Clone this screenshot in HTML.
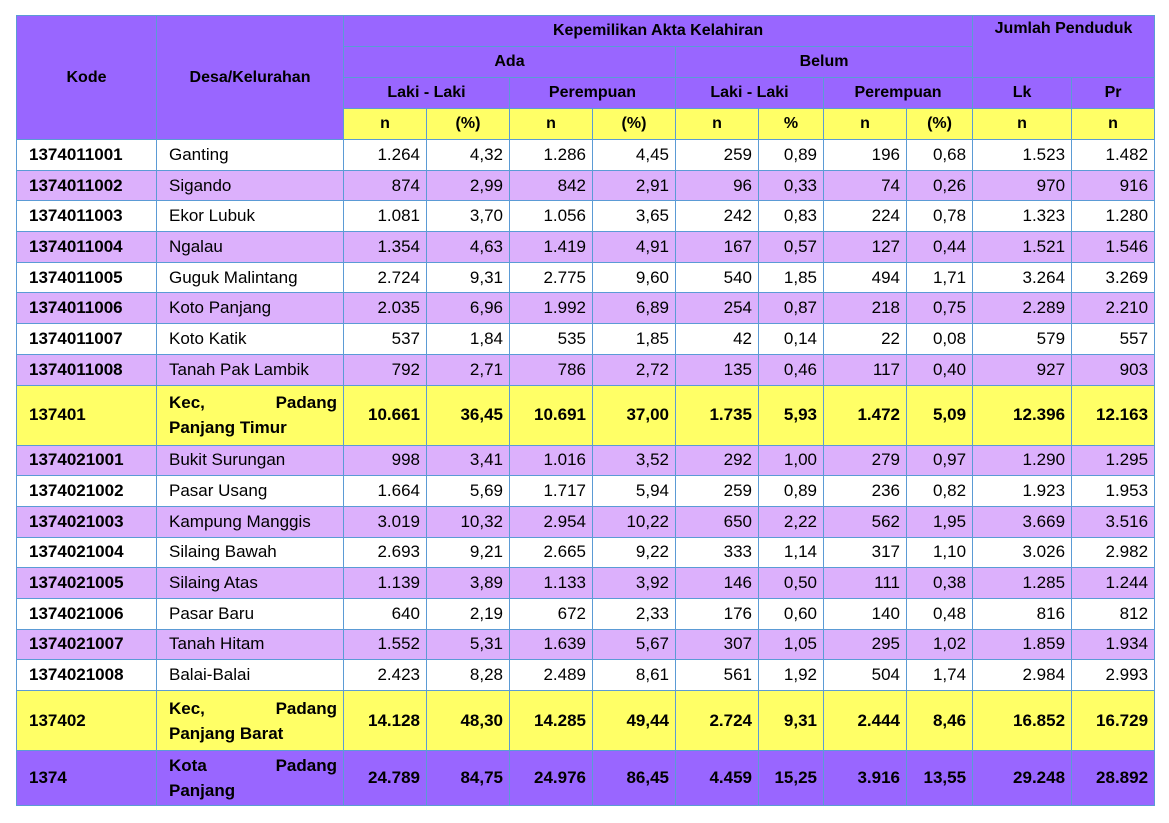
<!DOCTYPE html>
<html><head><meta charset="utf-8">
<style>
html,body{margin:0;padding:0;background:#fff;width:1169px;height:823px;overflow:hidden}
table{position:absolute;left:16px;top:15px;border-collapse:collapse;table-layout:fixed;width:1139px;font-family:"Liberation Sans","DejaVu Sans",sans-serif;font-size:17px;color:#000}
td,th{border:1px solid #5b9bd5;padding:0 6px;overflow:hidden;white-space:nowrap}
th{background:#9966ff;font-weight:bold;font-size:16px;text-align:center}
th.y{background:#ffff66}
tr.h td,tr.h th{height:30px}
tbody tr{height:30.7px}
tbody tr.w td{background:#fff}
tbody tr.l td{background:#dcb0fc}
tbody tr.k td{background:#ffff66;font-weight:bold;height:59px}
tbody tr.t td{background:#9966ff;font-weight:bold;height:54px}
td{text-align:right}
td.c{text-align:left;font-weight:bold;padding-left:12px}
td.d{text-align:left;padding-left:12px}
tr.k td.d,tr.t td.d{white-space:normal;text-align:justify;text-align-last:left;line-height:25px}
</style></head><body>
<table>
<colgroup><col style="width:140px"><col style="width:187px"><col style="width:83px"><col style="width:83px"><col style="width:83px"><col style="width:83px"><col style="width:83px"><col style="width:65px"><col style="width:83px"><col style="width:66px"><col style="width:99px"><col style="width:83px"></colgroup>
<thead>
<tr class="h"><th rowspan="4">Kode</th><th rowspan="4">Desa/Kelurahan</th><th colspan="8">Kepemilikan Akta Kelahiran</th><th colspan="2" rowspan="2" style="vertical-align:top;padding-top:4px">Jumlah Penduduk</th></tr>
<tr class="h"><th colspan="4">Ada</th><th colspan="4">Belum</th></tr>
<tr class="h"><th colspan="2">Laki - Laki</th><th colspan="2">Perempuan</th><th colspan="2">Laki - Laki</th><th colspan="2">Perempuan</th><th>Lk</th><th>Pr</th></tr>
<tr class="h"><th class="y">n</th><th class="y">(%)</th><th class="y">n</th><th class="y">(%)</th><th class="y">n</th><th class="y">%</th><th class="y">n</th><th class="y">(%)</th><th class="y">n</th><th class="y">n</th></tr>
</thead>
<tbody>
<tr class="w"><td class="c">1374011001</td><td class="d">Ganting</td><td>1.264</td><td>4,32</td><td>1.286</td><td>4,45</td><td>259</td><td>0,89</td><td>196</td><td>0,68</td><td>1.523</td><td>1.482</td></tr>
<tr class="l"><td class="c">1374011002</td><td class="d">Sigando</td><td>874</td><td>2,99</td><td>842</td><td>2,91</td><td>96</td><td>0,33</td><td>74</td><td>0,26</td><td>970</td><td>916</td></tr>
<tr class="w"><td class="c">1374011003</td><td class="d">Ekor Lubuk</td><td>1.081</td><td>3,70</td><td>1.056</td><td>3,65</td><td>242</td><td>0,83</td><td>224</td><td>0,78</td><td>1.323</td><td>1.280</td></tr>
<tr class="l"><td class="c">1374011004</td><td class="d">Ngalau</td><td>1.354</td><td>4,63</td><td>1.419</td><td>4,91</td><td>167</td><td>0,57</td><td>127</td><td>0,44</td><td>1.521</td><td>1.546</td></tr>
<tr class="w"><td class="c">1374011005</td><td class="d">Guguk Malintang</td><td>2.724</td><td>9,31</td><td>2.775</td><td>9,60</td><td>540</td><td>1,85</td><td>494</td><td>1,71</td><td>3.264</td><td>3.269</td></tr>
<tr class="l"><td class="c">1374011006</td><td class="d">Koto Panjang</td><td>2.035</td><td>6,96</td><td>1.992</td><td>6,89</td><td>254</td><td>0,87</td><td>218</td><td>0,75</td><td>2.289</td><td>2.210</td></tr>
<tr class="w"><td class="c">1374011007</td><td class="d">Koto Katik</td><td>537</td><td>1,84</td><td>535</td><td>1,85</td><td>42</td><td>0,14</td><td>22</td><td>0,08</td><td>579</td><td>557</td></tr>
<tr class="l"><td class="c">1374011008</td><td class="d">Tanah Pak Lambik</td><td>792</td><td>2,71</td><td>786</td><td>2,72</td><td>135</td><td>0,46</td><td>117</td><td>0,40</td><td>927</td><td>903</td></tr>
<tr class="k"><td class="c">137401</td><td class="d">Kec, Padang Panjang Timur</td><td>10.661</td><td>36,45</td><td>10.691</td><td>37,00</td><td>1.735</td><td>5,93</td><td>1.472</td><td>5,09</td><td>12.396</td><td>12.163</td></tr>
<tr class="l"><td class="c">1374021001</td><td class="d">Bukit Surungan</td><td>998</td><td>3,41</td><td>1.016</td><td>3,52</td><td>292</td><td>1,00</td><td>279</td><td>0,97</td><td>1.290</td><td>1.295</td></tr>
<tr class="w"><td class="c">1374021002</td><td class="d">Pasar Usang</td><td>1.664</td><td>5,69</td><td>1.717</td><td>5,94</td><td>259</td><td>0,89</td><td>236</td><td>0,82</td><td>1.923</td><td>1.953</td></tr>
<tr class="l"><td class="c">1374021003</td><td class="d">Kampung Manggis</td><td>3.019</td><td>10,32</td><td>2.954</td><td>10,22</td><td>650</td><td>2,22</td><td>562</td><td>1,95</td><td>3.669</td><td>3.516</td></tr>
<tr class="w"><td class="c">1374021004</td><td class="d">Silaing Bawah</td><td>2.693</td><td>9,21</td><td>2.665</td><td>9,22</td><td>333</td><td>1,14</td><td>317</td><td>1,10</td><td>3.026</td><td>2.982</td></tr>
<tr class="l"><td class="c">1374021005</td><td class="d">Silaing Atas</td><td>1.139</td><td>3,89</td><td>1.133</td><td>3,92</td><td>146</td><td>0,50</td><td>111</td><td>0,38</td><td>1.285</td><td>1.244</td></tr>
<tr class="w"><td class="c">1374021006</td><td class="d">Pasar Baru</td><td>640</td><td>2,19</td><td>672</td><td>2,33</td><td>176</td><td>0,60</td><td>140</td><td>0,48</td><td>816</td><td>812</td></tr>
<tr class="l"><td class="c">1374021007</td><td class="d">Tanah Hitam</td><td>1.552</td><td>5,31</td><td>1.639</td><td>5,67</td><td>307</td><td>1,05</td><td>295</td><td>1,02</td><td>1.859</td><td>1.934</td></tr>
<tr class="w"><td class="c">1374021008</td><td class="d">Balai-Balai</td><td>2.423</td><td>8,28</td><td>2.489</td><td>8,61</td><td>561</td><td>1,92</td><td>504</td><td>1,74</td><td>2.984</td><td>2.993</td></tr>
<tr class="k"><td class="c">137402</td><td class="d">Kec, Padang Panjang Barat</td><td>14.128</td><td>48,30</td><td>14.285</td><td>49,44</td><td>2.724</td><td>9,31</td><td>2.444</td><td>8,46</td><td>16.852</td><td>16.729</td></tr>
<tr class="t"><td class="c">1374</td><td class="d">Kota Padang Panjang</td><td>24.789</td><td>84,75</td><td>24.976</td><td>86,45</td><td>4.459</td><td>15,25</td><td>3.916</td><td>13,55</td><td>29.248</td><td>28.892</td></tr>
</tbody>
</table>
</body></html>
